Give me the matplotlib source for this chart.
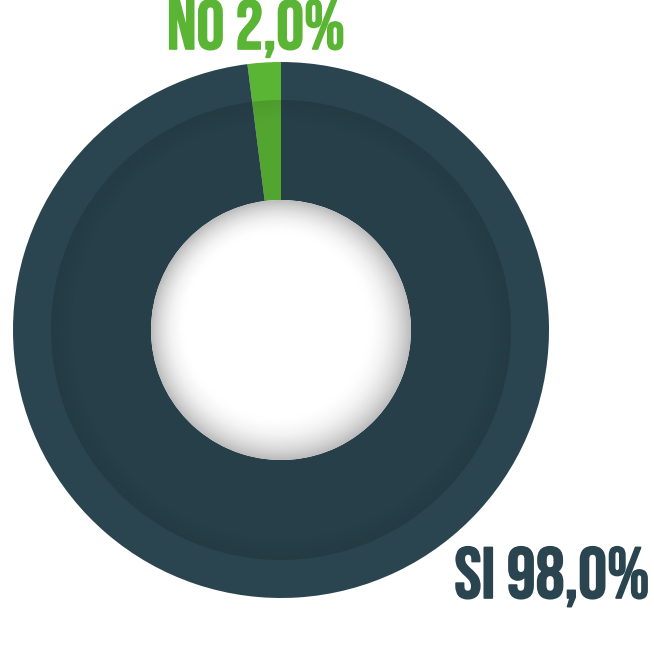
import matplotlib
matplotlib.use("Agg")
import matplotlib.pyplot as plt
import matplotlib.patheffects as pe
from matplotlib.patches import Circle, Wedge

labels = ["NO", "SI"]
values = [2.0, 98.0]
colors = ["#5ab535", "#2b4550"]

W, H = 654, 668
cx, cy = 281, H - 330
R_OUT, R_MID, R_IN = 268, 230, 130

fig = plt.figure(figsize=(W / 100, H / 100), dpi=100)
ax = fig.add_axes([0, 0, 1, 1])

ax.pie(values, center=(cx, cy), radius=R_OUT, startangle=90, counterclock=True,
       colors=colors, wedgeprops=dict(width=R_OUT - R_IN, linewidth=0), frame=True)
ax.set_xlim(0, W)
ax.set_ylim(0, H)
ax.axis("off")

# darker inner band with a soft shadow along its outer edge
ax.add_patch(Wedge((cx, cy), R_MID, 0, 360, width=R_MID - R_IN,
                   facecolor="black", alpha=0.08, linewidth=0))
for i in range(14):
    r = R_MID - i * 1.5
    ax.add_patch(Wedge((cx, cy), r, 0, 360, width=1.5,
                       facecolor="black", alpha=0.06 * (1 - i / 14), linewidth=0))

# hole with soft grey vignette, lit slightly from the top left
n = 40
for i in range(n + 1):
    t = i / n
    r = R_IN - t * 42
    g = 0.74 + 0.26 * (1 - (1 - t) ** 2.2)
    off = 5 * t
    ax.add_patch(Circle((cx - off, cy + off), r, facecolor=(g, g, g), linewidth=0))

font = ["Bebas Neue", "DejaVu Sans"]
ax.text(256, H - 49, f"{labels[0]} {values[0]:.1f}%".replace(".", ","),
        color=colors[0], fontsize=50, family=font, ha="center", va="baseline",
        path_effects=[pe.withStroke(linewidth=1.2, foreground=colors[0])])
ax.text(552, H - 598, f"{labels[1]} {values[1]:.1f}%".replace(".", ","),
        color=colors[1], fontsize=52, family=font, ha="center", va="baseline",
        path_effects=[pe.withStroke(linewidth=1.2, foreground=colors[1])])

fig.savefig("out.png", dpi=100)
